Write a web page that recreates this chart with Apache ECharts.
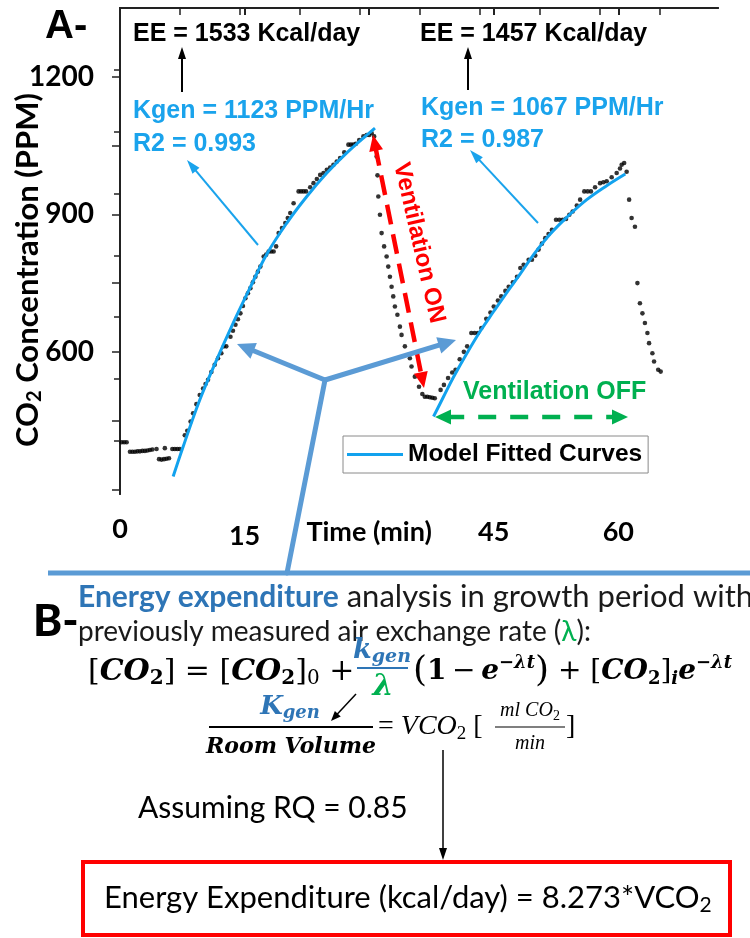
<!DOCTYPE html>
<html><head><meta charset="utf-8">
<script src="https://cdn.jsdelivr.net/npm/echarts@6.0.0/dist/echarts.min.js"></script>
<style>html,body{margin:0;padding:0;background:#fff}#c{width:750px;height:938px}</style>
</head><body><div id="c"></div>
<script>
// ---- measured CO2 data (time in min, CO2 in PPM) ----
const measuredT = [
  0.2,0.5,0.8,1.2,1.5,1.8,2.1,2.4,2.7,3.0,3.3,3.6,3.9,4.4,4.7,5.0,5.3,5.4,5.6,5.9,6.3,6.6,6.9,7.2,
  7.8,8.1,8.5,8.8,9.2,9.6,10.0,10.3,10.6,11.0,11.4,11.8,12.2,12.5,12.8,13.3,13.6,13.9,14.2,14.5,14.8,15.1,15.4,15.7,16.0,16.3,16.6,16.9,17.3,17.6,17.9,18.2,18.5,18.8,19.1,19.5,19.9,20.2,20.5,20.9,21.5,21.8,22.1,22.4,22.9,23.3,23.7,24.1,24.5,24.9,25.3,25.7,26.1,26.5,27.0,27.5,27.8,28.1,28.4,28.8,29.3,29.7,30.0,30.3,
  30.6,30.9,31.0,31.1,31.3,31.5,31.8,32.1,32.3,32.5,32.7,32.9,33.1,33.4,33.7,33.9,34.3,34.9,35.1,35.5,36.0,36.4,36.7,37.0,37.3,37.6,37.9,
  38.6,39.0,39.5,40.0,40.4,40.9,41.4,41.8,42.3,42.7,43.1,43.5,44.1,44.6,45.0,45.5,45.9,46.4,46.8,47.3,47.8,48.2,48.6,49.2,49.6,50.0,50.4,50.8,51.2,51.6,52.0,52.5,52.9,53.3,53.7,54.1,54.5,55.0,55.4,55.9,56.3,56.7,57.2,57.8,58.2,58.6,59.2,59.8,60.2,60.4,60.7,
  61.0,61.3,61.6,62.0,62.3,62.6,62.9,63.2,63.5,63.7,64.1,64.3,64.8,65.1
];
const measuredPPM = [
  403,403,403,382,382,382,383,383,384,384,385,386,387,388,366,365,366,390,367,368,388,388,388,388,
  418,428,448,466,486,506,520,530,539,556,572,586,597,612,612,633,646,659,671,684,700,717,728,739,752,764,775,786,808,812,819,819,819,830,859,870,881,892,903,924,950,950,950,950,959,968,977,986,990,997,1002,1008,1015,1023,1035,1052,1052,1052,1054,1062,1070,1073,1073,1077,
  1070,1026,985,939,899,859,830,808,786,764,742,721,699,681,655,637,612,586,568,546,524,508,502,502,501,500,499,
  517,528,543,555,561,584,600,612,641,641,641,652,672,686,699,712,721,733,742,752,764,783,790,801,801,810,823,836,848,857,866,888,888,888,890,899,906,919,932,950,950,950,959,968,970,972,981,990,1000,1008,1012,
  993,932,892,873,750,706,684,663,641,619,597,579,561,557
];
// ---- model fitted curves ----
const fit1T   = [6.4,7.6,9.6,11.65,13.65,15.66,17.67,20.08,22.49,24.9,27.3,30.7];
const fit1PPM = [328,393,495,583,664,740,813,881,939,990,1034,1088];
const fit2T   = [37.75,38.95,40.16,41.77,43.37,44.98,46.59,48.19,49.8,51.8,53.82,56.2,58.64,60.84];
const fit2PPM = [459,502,545,597,645,688,730,770,812,857,894,932,963,988];
// ---- axes ----
const xTickValues  = [0,15,30,45,60];
const xLabelValues = [0,15,30,45,60];
const yTickValues  = [300,450,600,750,900,1050,1200];
const yLabelValues = [600,900,1200];
const legendName = 'Model Fitted Curves';

const zip = (a,b) => a.map((v,i)=>[v,b[i]]);
const ARIAL = '"Liberation Sans", Arial, sans-serif';
const CAL = 'Lato, Carlito, sans-serif';
const SERIF = '"DejaVu Serif", "Liberation Serif", serif';
const FITBLUE = '#12a2ee', NOTEBLUE = '#1aa3ec', CALLOUT = '#5b9bd5', DBLUE = '#2e75b6', GREEN = '#00b050', RED = '#ff0000';

function head(x,y,ang,len,w,color){
  const bx = x-Math.cos(ang)*len, by = y-Math.sin(ang)*len;
  const px = -Math.sin(ang)*w/2, py = Math.cos(ang)*w/2;
  return {type:'polygon', z:100, shape:{points:[[x,y],[bx+px,by+py],[bx-px,by-py]]}, style:{fill:color}};
}
function arrow(x1,y1,x2,y2,o){
  const ang = Math.atan2(y2-y1,x2-x1);
  const k = o.len*0.7;
  let sx=x1, sy=y1;
  if(o.both){ sx = x1+Math.cos(ang)*k; sy = y1+Math.sin(ang)*k; }
  const ex = x2-Math.cos(ang)*k, ey = y2-Math.sin(ang)*k;
  const st = {stroke:o.color, lineWidth:o.width};
  if(o.dash) st.lineDash = o.dash;
  const els = [{type:'line', z:100, shape:{x1:sx,y1:sy,x2:ex,y2:ey}, style:st}];
  els.push(head(x2,y2,ang,o.len,o.w,o.color));
  if(o.both) els.push(head(x1,y1,ang+Math.PI,o.len,o.w,o.color));
  return els;
}
function line(x1,y1,x2,y2,color,width){
  return {type:'line', z:100, shape:{x1,y1,x2,y2}, style:{stroke:color, lineWidth:width, lineCap:'round'}};
}
function txt(x,y,text,style,extra){
  return Object.assign({type:'text', z:100, x, y, style:Object.assign({text, x:0, y:0, textVerticalAlign:'middle'}, style)}, extra||{});
}

const graphics = [];
// Panel A labels
graphics.push(txt(45,27,'A-',{font:'bold 40px '+ARIAL, fill:'#000'}));
graphics.push(txt(28,270,'{a|CO}{s|2}{a| Concentration (PPM)}',{textAlign:'center',
  rich:{a:{fontFamily:CAL,fontWeight:'bold',fontSize:31,fill:'#000'},
        s:{fontFamily:CAL,fontWeight:'bold',fontSize:20,fill:'#000',padding:[14,0,0,0]}}},{rotation:Math.PI/2}));
graphics.push(txt(133,34,'EE = 1533 Kcal/day',{font:'bold 25px '+ARIAL, fill:'#000'}));
graphics.push(txt(420,34,'EE = 1457 Kcal/day',{font:'bold 25px '+ARIAL, fill:'#000'}));
graphics.push(txt(133,111,'Kgen = 1123 PPM/Hr',{font:'bold 25px '+ARIAL, fill:NOTEBLUE}));
graphics.push(txt(133,144,'R2 = 0.993',{font:'bold 25px '+ARIAL, fill:NOTEBLUE}));
graphics.push(txt(421,108,'Kgen = 1067 PPM/Hr',{font:'bold 25px '+ARIAL, fill:NOTEBLUE}));
graphics.push(txt(421,140,'R2 = 0.987',{font:'bold 25px '+ARIAL, fill:NOTEBLUE}));
graphics.push(...arrow(182,92,182,47,{color:'#000',width:2,len:12,w:8}));
graphics.push(...arrow(468,90,468,47,{color:'#000',width:2,len:12,w:8}));
graphics.push(...arrow(258,245,187,160,{color:NOTEBLUE,width:2,len:14,w:9}));
graphics.push(...arrow(538,223,470,150,{color:NOTEBLUE,width:2,len:14,w:9}));
graphics.push(...arrow(373,135,424,388,{color:RED,width:4.5,len:16,w:14,both:true,dash:[20,10]}));
graphics.push(txt(419,243,'Ventilation ON',{font:'bold 24px '+ARIAL, fill:RED, textAlign:'center'},{rotation:-77*Math.PI/180}));
graphics.push(txt(463,392,'Ventilation OFF',{font:'bold 25px '+ARIAL, fill:GREEN}));
graphics.push(...arrow(435,417,628,417,{color:GREEN,width:4.5,len:16,w:15,both:true,dash:[18,14]}));
// blue Y callout
graphics.push(...arrow(325,380,237,344,{color:CALLOUT,width:5,len:18,w:17}));
graphics.push(...arrow(325,380,456,340,{color:CALLOUT,width:5,len:18,w:17}));
graphics.push(line(325,380,287,573,CALLOUT,5));
graphics.push({type:'line', z:100, shape:{x1:48,y1:573,x2:752,y2:573}, style:{stroke:CALLOUT, lineWidth:5}});
// Panel B
graphics.push(txt(33,622,'B-',{font:'900 44px '+CAL, fill:'#000'}));
graphics.push(txt(78,597,'{b|Energy expenditure}{t| analysis in growth period with}',{rich:{
  b:{fontFamily:CAL,fontWeight:'bold',fontSize:30,fill:DBLUE},
  t:{fontFamily:CAL,fontSize:31,fill:'#1a1a1a'}}}));
graphics.push(txt(78,632,'{t|previously measured air exchange rate (}{g|λ}{t|):}',{rich:{
  t:{fontFamily:CAL,fontSize:28,fill:'#1a1a1a'},
  g:{fontFamily:CAL,fontSize:28,fill:GREEN}}}));
function eqRich(fs){
  const ss = Math.round(fs*0.66);
  return {
    r:{fontFamily:SERIF,fontSize:fs,fill:'#000'},
    b:{fontFamily:SERIF,fontSize:fs,fontWeight:'bold',fontStyle:'italic',fill:'#000'},
    d:{fontFamily:SERIF,fontSize:fs,fontWeight:'bold',fill:'#000'},
    bs:{fontFamily:SERIF,fontSize:ss,fontWeight:'bold',fill:'#000',padding:[14,0,0,0]},
    rs:{fontFamily:SERIF,fontSize:ss,fill:'#000',padding:[14,0,0,0]},
    bi:{fontFamily:SERIF,fontSize:ss,fontWeight:'bold',fontStyle:'italic',fill:'#000',padding:[14,0,0,0]},
    sup:{fontFamily:SERIF,fontSize:ss,fontWeight:'bold',fontStyle:'italic',fill:'#000',padding:[0,0,18,0]},
    p:{fontFamily:SERIF,fontSize:Math.round(fs*1.3),fill:'#000'}
  };
}
graphics.push(txt(88,672,'{r|[}{b|CO}{bs|2}{r|] = [}{b|CO}{bs|2}{r|]}{rs|0}{r| +}',{rich:eqRich(30)}));
graphics.push(txt(382,651,'{k|k}{s|gen}',{textAlign:'center',rich:{
  k:{fontFamily:SERIF,fontSize:27,fontWeight:'bold',fontStyle:'italic',fill:DBLUE},
  s:{fontFamily:SERIF,fontSize:19,fontWeight:'bold',fontStyle:'italic',fill:DBLUE,padding:[12,0,0,0]}}}));
graphics.push({type:'line', z:100, shape:{x1:357,y1:668,x2:408,y2:668}, style:{stroke:DBLUE, lineWidth:2}});
graphics.push(txt(383,687,'λ',{font:'italic bold 30px '+SERIF, fill:GREEN, textAlign:'center'}));
graphics.push(txt(413,672,'{p|(}{d|1}{r|\u2009−\u2009}{b|e}{sup|−λt}{p|)}{r| + [}{b|CO}{bs|2}{r|]}{bi|i}{b|e}{sup|−λt}',{rich:eqRich(28)}));
graphics.push(...arrow(356,694,331,721,{color:'#000',width:1.5,len:10,w:8}));
graphics.push(txt(290,707,'{k|K}{s|gen}',{textAlign:'center',rich:{
  k:{fontFamily:SERIF,fontSize:26,fontWeight:'bold',fontStyle:'italic',fill:DBLUE},
  s:{fontFamily:SERIF,fontSize:18,fontWeight:'bold',fontStyle:'italic',fill:DBLUE,padding:[12,0,0,0]}}}));
graphics.push({type:'line', z:100, shape:{x1:209,y1:727,x2:373,y2:727}, style:{stroke:'#000', lineWidth:2}});
graphics.push(txt(291,747,'Room Volume',{font:'italic bold 22px '+SERIF, fill:'#000', textAlign:'center'}));
graphics.push(txt(378,727,'{r|= }{i|VCO}{s|2}{r| [}',{rich:{
  r:{fontFamily:'"Liberation Serif", serif',fontSize:28,fill:'#000'},
  i:{fontFamily:'"Liberation Serif", serif',fontSize:28,fontStyle:'italic',fill:'#000'},
  s:{fontFamily:'"Liberation Serif", serif',fontSize:19,fill:'#000',padding:[14,0,0,0]}}}));
graphics.push(txt(530,711,'{i|ml CO}{s|2}',{textAlign:'center',rich:{
  i:{fontFamily:'"Liberation Serif", serif',fontSize:20,fontStyle:'italic',fill:'#000'},
  s:{fontFamily:'"Liberation Serif", serif',fontSize:14,fill:'#000',padding:[10,0,0,0]}}}));
graphics.push({type:'line', z:100, shape:{x1:495,y1:727,x2:565,y2:727}, style:{stroke:'#000', lineWidth:1.2}});
graphics.push(txt(530,744,'min',{font:'italic 20px "Liberation Serif", serif', fill:'#000', textAlign:'center'}));
graphics.push(txt(566,727,']',{font:'28px "Liberation Serif", serif', fill:'#000'}));
graphics.push(...arrow(443,750,443,860,{color:'#000',width:1.5,len:12,w:8}));
graphics.push(txt(138,808,'Assuming RQ = 0.85',{font:'30px '+CAL, fill:'#000'}));
graphics.push({type:'rect', z:100, shape:{x:83,y:862,width:647,height:73}, style:{fill:'none', stroke:RED, lineWidth:4}});
graphics.push(txt(104,898,'{t|Energy Expenditure (kcal/day) = 8.273*VCO}{s|2}',{rich:{
  t:{fontFamily:CAL,fontSize:31,fill:'#000'},
  s:{fontFamily:CAL,fontSize:21,fill:'#000',padding:[14,0,0,0]}}}));

const chart = echarts.init(document.getElementById('c'), null, {renderer:'canvas'});
chart.setOption({
  backgroundColor:'#fff',
  animation:false,
  grid:{left:120, top:8, width:598, height:486, containLabel:false},
  legend:{
    data:[legendName], left:343, top:436, icon:'rect', itemWidth:56, itemHeight:3,
    padding:[6,6,6,4], borderColor:'#8a8a8a', borderWidth:1, backgroundColor:'#fff',
    textStyle:{fontFamily:ARIAL, fontWeight:'bold', fontSize:24.5, color:'#000', lineHeight:24},
    selectedMode:false
  },
  xAxis:[{
    type:'value', min:0, max:72, position:'bottom',
    axisLine:{lineStyle:{color:'#222', width:2}},
    axisTick:{customValues:xTickValues, length:7, inside:false, lineStyle:{color:'#222', width:2}},
    splitLine:{show:false},
    axisLabel:{customValues:xLabelValues, margin:22, color:'#000', fontFamily:CAL, fontWeight:'bold', fontSize:27,
      formatter:v => v===15 ? '{lo|15}' : (v===30 ? '{md|Time (min)}' : (v===0 ? String(v) : '{md|'+v+'}')),
      rich:{lo:{fontFamily:CAL, fontWeight:'bold', fontSize:27, color:'#000', padding:[7,0,0,0]},
            md:{fontFamily:CAL, fontWeight:'bold', fontSize:27, color:'#000', padding:[3,0,0,0]}}}
  },{
    type:'value', min:0, max:9.967, position:'top',
    axisLine:{lineStyle:{color:'#222', width:2}},
    axisTick:{customValues:[1,2,3,4,5,6,7,8,9], inside:true, length:7, lineStyle:{color:'#222', width:1.5}},
    axisLabel:{show:false}, splitLine:{show:false}
  }],
  yAxis:[{
    type:'value', min:290, max:1350, position:'left',
    axisLine:{show:true, lineStyle:{color:'#222', width:2}},
    axisTick:{show:true, customValues:yTickValues, length:8, lineStyle:{color:'#222', width:1.5}},
    splitLine:{show:false},
    axisLabel:{customValues:yLabelValues, margin:26, color:'#000', fontFamily:CAL, fontWeight:'bold', fontSize:28,
      formatter:v => String(v)}
  },{
    type:'value', min:0, max:7.86, inverse:true, position:'right',
    axisLine:{show:true, lineStyle:{color:'#222', width:2}},
    axisTick:{show:true, customValues:[1,2,3,4,5,6,7], inside:true, length:6, lineStyle:{color:'#222', width:1.5}},
    axisLabel:{show:false}, splitLine:{show:false}
  }],
  series:[
    {name:'Measured', type:'scatter', xAxisIndex:0, yAxisIndex:0, data:zip(measuredT, measuredPPM),
     symbol:'circle', symbolSize:4.6, itemStyle:{color:'#000'}, z:3},
    {name:legendName, type:'line', xAxisIndex:0, yAxisIndex:0, data:zip(fit1T, fit1PPM), smooth:0.4,
     showSymbol:false, symbol:'none', lineStyle:{color:FITBLUE, width:3}, itemStyle:{color:FITBLUE}, z:4},
    {name:legendName, type:'line', xAxisIndex:0, yAxisIndex:0, data:zip(fit2T, fit2PPM), smooth:0.4,
     showSymbol:false, symbol:'none', lineStyle:{color:FITBLUE, width:3}, itemStyle:{color:FITBLUE}, z:4}
  ],
  graphic:{elements:graphics}
});
</script></body></html>
